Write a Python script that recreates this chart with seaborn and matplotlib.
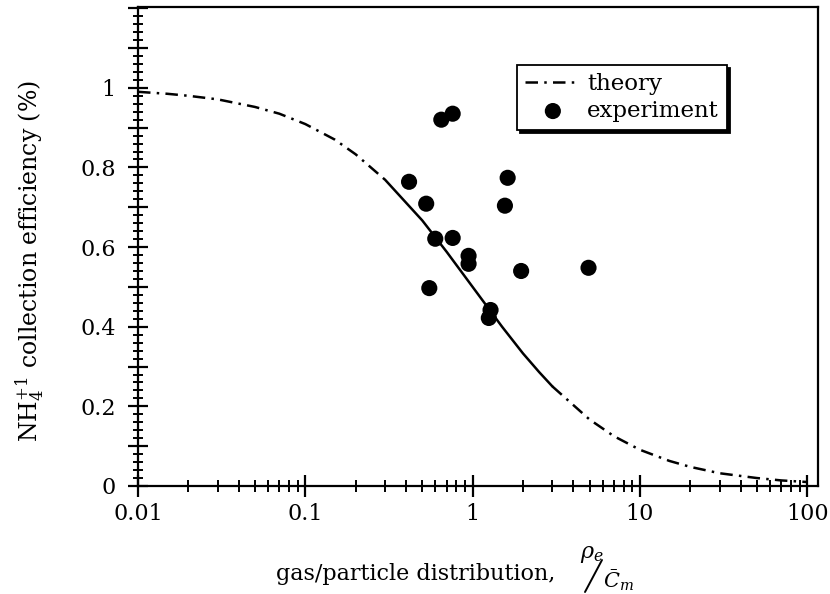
import numpy as np
import pandas as pd
import matplotlib
matplotlib.use("Agg")
import matplotlib.pyplot as plt
import seaborn as sns
from matplotlib.lines import Line2D
from matplotlib.ticker import FixedLocator, FuncFormatter, LogLocator, NullFormatter

# Theoretical collection efficiency, sampled on a log grid
theory_x = [0.01, 0.015, 0.02, 0.03, 0.05, 0.07, 0.1, 0.15, 0.2, 0.3,
            0.5, 0.7, 1.0, 1.5, 2.0, 2.5, 3.0, 5.0, 7.0, 10.0,
            15.0, 20.0, 30.0, 50.0, 70.0, 100.0]
theory_y = [0.990, 0.985, 0.980, 0.971, 0.952, 0.935, 0.909, 0.870, 0.833, 0.769,
            0.667, 0.588, 0.500, 0.400, 0.333, 0.286, 0.250, 0.167, 0.125, 0.091,
            0.063, 0.048, 0.032, 0.020, 0.014, 0.010]

# Measured collection efficiencies
exp_x = [0.65, 0.76, 0.417, 0.528, 1.62, 1.56, 0.598, 0.76, 0.946, 0.946,
         1.95, 4.93, 0.551, 1.28, 1.25]
exp_y = [0.920, 0.935, 0.764, 0.709, 0.774, 0.704, 0.621, 0.623, 0.578, 0.558,
         0.540, 0.548, 0.497, 0.442, 0.422]

x_ticks = [0.01, 0.1, 1, 10, 100]
x_tick_labels = ["0.01", "0.1", "1", "10", "100"]
y_ticks = [0.0, 0.2, 0.4, 0.6, 0.8, 1.0]
y_tick_labels = ["0", "0.2", "0.4", "0.6", "0.8", "1"]

theory = pd.DataFrame({"x": theory_x, "y": theory_y})
experiment = pd.DataFrame({"x": exp_x, "y": exp_y})

sns.set_theme(style="white")
plt.rcParams["font.family"] = ["DejaVu Serif"]
plt.rcParams["mathtext.fontset"] = "dejavuserif"
plt.rcParams["text.color"] = "black"
plt.rcParams["axes.labelcolor"] = "black"
plt.rcParams["xtick.color"] = "black"
plt.rcParams["ytick.color"] = "black"

W, H = 830, 594
fig = plt.figure(figsize=(W / 100, H / 100), dpi=100)
ax = fig.add_axes([138 / W, 1 - 486 / H, (818 - 138) / W, (486 - 7) / H])


def px(x, y):
    return x / W, 1 - y / H


dashdot = (0, (5, 2.5, 1, 2.5))
lw = 1.8

# theory curve: dash-dot in the tails, continuous through the transition
left = theory[theory["x"] <= 0.3]
mid = theory[(theory["x"] >= 0.3) & (theory["x"] <= 3.0)]
right = theory[theory["x"] >= 3.0]
sns.lineplot(data=left, x="x", y="y", ax=ax, color="black", linewidth=lw,
             linestyle=dashdot, label="theory", sort=False)
sns.lineplot(data=mid, x="x", y="y", ax=ax, color="black", linewidth=lw,
             linestyle="-", sort=False)
sns.lineplot(data=right, x="x", y="y", ax=ax, color="black", linewidth=lw,
             linestyle=dashdot, sort=False)

sns.scatterplot(data=experiment, x="x", y="y", ax=ax, color="black", s=135,
                edgecolor="none", label="experiment", zorder=3)

ax.set_xscale("log")
ax.set_xlim(0.01, 116)
ax.set_ylim(0, 1.203)

ax.xaxis.set_major_locator(FixedLocator(x_ticks))
ax.xaxis.set_major_formatter(FuncFormatter(
    lambda v, p: dict(zip(x_ticks, x_tick_labels)).get(v, "")))
ax.xaxis.set_minor_locator(LogLocator(base=10, subs=np.arange(2, 10)))
ax.xaxis.set_minor_formatter(NullFormatter())

y_major = np.round(np.arange(0, 1.21, 0.1), 2)
y_minor = np.round(np.arange(0, 1.201, 0.02), 2)
ax.yaxis.set_major_locator(FixedLocator(y_major))
ax.yaxis.set_minor_locator(FixedLocator(y_minor))


def ylab(v, p):
    for t, s in zip(y_ticks, y_tick_labels):
        if abs(v - t) < 1e-6:
            return s
    return ""


ax.yaxis.set_major_formatter(FuncFormatter(ylab))

ax.tick_params(axis="x", which="major", direction="inout", length=16, width=1.6,
               labelsize=16, pad=4, bottom=True, top=False)
ax.tick_params(axis="x", which="minor", direction="inout", length=9, width=1.4,
               bottom=True, top=False)
ax.tick_params(axis="y", which="major", direction="inout", length=14, width=1.6,
               labelsize=16, pad=9, left=True, right=False)
ax.tick_params(axis="y", which="minor", direction="inout", length=7, width=1.4,
               left=True, right=False)

for sp in ax.spines.values():
    sp.set_color("black")
    sp.set_linewidth(1.6)

ax.set_ylabel(r"NH$_4^{+1}$ collection efficiency (%)", fontsize=17)
ax.yaxis.set_label_coords(-0.135, 0.47)
ax.set_xlabel("gas/particle distribution,", fontsize=16)
ax.xaxis.set_label_coords(0.408, -0.16)

# slashed fraction after the x label
fig.text(*px(592, 554), r"$\rho_e$", fontsize=16, ha="center", va="center")
fig.add_artist(Line2D([585 / W, 602 / W], [1 - 592 / H, 1 - 560 / H],
                      transform=fig.transFigure, color="black", lw=1.4))
fig.text(*px(619, 580), r"$\bar{C}_m$", fontsize=15, ha="center", va="center")

leg = ax.legend(loc="upper right", bbox_to_anchor=px(727, 65),
                bbox_transform=fig.transFigure, frameon=True, fancybox=False,
                shadow={"color": "black", "alpha": 1.0}, edgecolor="black",
                framealpha=1, fontsize=16.5, handlelength=2.4, borderpad=0.35,
                labelspacing=0.22, handletextpad=0.3, borderaxespad=0)
leg.get_frame().set_linewidth(1.3)

fig.savefig("out.png", dpi=100)
